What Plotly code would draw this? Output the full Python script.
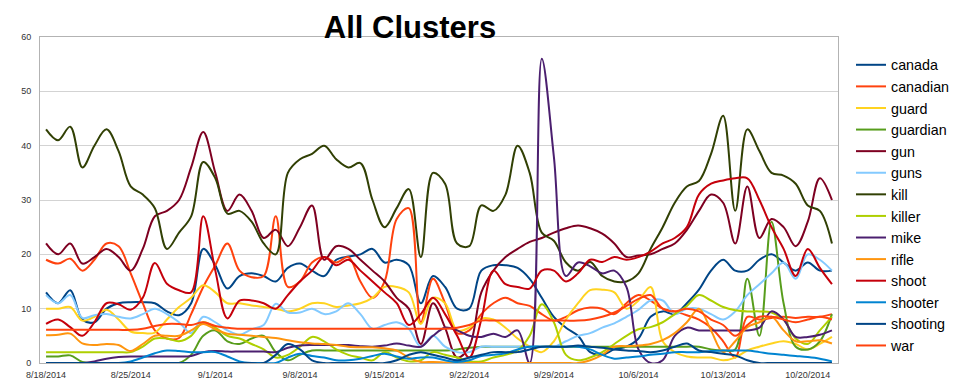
import pandas as pd
import plotly.graph_objects as go

dates = pd.date_range("2014-08-18", periods=66, freq="D")

canada = [13, 11, 13.4, 8, 7.5, 10, 11, 11.2, 11.2, 11, 9.5, 8.8, 11, 21, 18, 13.7, 16, 16.5, 16, 15,
          17.5, 18.3, 17, 16, 19, 19.6, 20, 21, 18.5, 19, 18, 11, 16, 14, 10, 10, 17, 18, 18, 17.5,
          15.5, 12, 8.5, 6.5, 5, 2, 1.5, 2.5, 3, 4.5, 8.5, 9.5, 9, 11, 13.5, 17, 19, 17, 17, 19,
          20, 18.5, 17, 18.5, 17, 17]
canadian = [19, 18.3, 19.2, 17, 19, 22, 21.5, 16.5, 11, 6, 4.5, 4.6, 9, 14, 18, 22, 17, 15.8, 16, 27,
            14, 15, 18.5, 19.5, 18.5, 19.5, 15, 12, 15, 26.5, 28.5, 7.5, 15.5, 11, 5.5, 6, 9, 11, 12, 11,
            10.5, 9, 7.8, 8.5, 9.7, 10.2, 10, 9, 11, 12.5, 11.5, 10, 9.5, 8.8, 8, 6.5, 4, 1, 8.5, 8,
            8.3, 8.5, 8.3, 8.5, 8.5, 9]
guard = [10, 10, 10.3, 7.8, 8.5, 9.8, 8, 5.8, 5.5, 5.6, 8, 10.3, 12, 14.3, 13, 11, 11, 10.6, 10.3, 10,
         9.5, 10, 11, 11, 10.3, 10.6, 11, 12, 14, 14, 13, 7.2, 12, 11, 6, 6.5, 8.2, 8, 6.5, 4.5,
         3, 2, 4, 8, 11, 13.4, 13.5, 13, 10, 11.5, 14, 4, 2, 1.2, 1, 1, 0.5, 1, 2.3, 3,
         3.6, 4, 3.5, 2.5, 3.5, 4.8]
guardian = [1.2, 1.2, 1.4, 0.2, 0, 0, 0, 0, 0, 0, 0, 0, 1.5, 5, 6, 4, 3.5, 4.5, 5, 2,
            0.5, 1.5, 2.3, 2.3, 2.3, 2.3, 2.3, 2.3, 2.3, 2.3, 2.3, 2.3, 2.3, 2.3, 2.5, 2.8, 3, 3, 3, 3,
            3, 3, 3, 3, 3, 3, 3, 3, 3, 3, 3, 3, 3, 3, 3, 2.5, 2.3, 2.5, 15.5, 5,
            26, 11, 3, 2.5, 4, 9]
gun = [22, 20, 22, 18.3, 19.5, 21, 19.5, 17, 21, 27, 28, 30, 36, 42.5, 35, 28, 31, 28, 23, 24.5,
       21.5, 25, 29, 19, 21.5, 21, 19, 17, 15, 12, 10, 3.5, 11, 6.5, 1, 3, 13, 17, 19.5, 21,
       22.3, 23, 24, 24.8, 25.3, 24.8, 23.8, 22, 19.5, 19.8, 20, 21, 22, 24.5, 28, 31, 29.5, 22, 32.5, 23,
       26.5, 25, 21.5, 26, 34, 30]
guns = [12.5, 11, 12.5, 8.3, 8.8, 9, 8.5, 8.2, 9, 10, 9, 7.5, 5.5, 8.5, 7.5, 6, 5.2, 6.2, 7, 10.9,
        9.3, 9.3, 10, 9, 9.5, 11, 9, 6.3, 7, 7.5, 6.3, 3, 5, 3, 2, 2, 3, 3, 3, 3,
        3, 3, 3, 4, 5, 5.5, 6.5, 7.3, 8.5, 9.8, 11.5, 11.5, 9, 10, 10, 9, 8, 9.5, 12.5, 14.5,
        16.5, 18.5, 15.5, 20, 19, 17]
kill = [43, 41, 43.5, 36, 40, 43, 39, 32.5, 31, 28.5, 21, 24, 27, 37, 34, 27.5, 28, 26, 22, 20,
        35, 37.5, 38.5, 40, 37.5, 36, 36.8, 30, 25, 28.5, 32, 19.5, 35, 33, 22, 21.5, 29, 28, 31, 40,
        35, 24, 22.5, 18.5, 17, 18.6, 16, 15, 15, 16.5, 21, 25, 29.5, 32.5, 33.5, 38.5, 45.5, 28, 43, 39,
        35, 34.5, 33, 29, 28, 22]
killer = [2, 2, 2, 2, 2, 2, 2, 2, 3, 4.5, 4.5, 4, 5, 7.5, 6.5, 5, 4.5, 3.5, 2.5, 1,
          1.5, 3, 4.8, 4, 2.5, 1.5, 1, 0.5, 2, 1, 0.3, 0.5, 2, 1.5, 1, 0.3, 0.3, 1, 1.5, 2.3,
          5, 10.8, 7.5, 1.5, 0.5, 1, 2, 3.5, 5, 6.2, 6.6, 7.5, 9, 10.5, 12.5, 11.5, 10.3, 9.7, 9.5, 9.5,
          9.3, 8, 4.5, 3.5, 6, 8.5]
mike = [0, 0, 0, 0, 0.3, 0.8, 1.1, 1.2, 1.2, 1.2, 1.2, 1.2, 1.3, 2, 2.2, 2.1, 2.1, 2.1, 2.1, 2,
        2.8, 3.2, 3.3, 3.3, 3.3, 3.3, 3.1, 3, 3.2, 3.6, 3.2, 3, 5, 6.5, 6, 5, 4.8, 5.4, 4.8, 6,
        0, 56, 38, 16, 18.5, 17.8, 16.5, 17, 14, 2.5, 0, 0.5, 5, 6.5, 6, 6, 6, 6, 6, 6.5,
        9.5, 8, 4.8, 4.8, 5.2, 6]
rifle = [5.1, 5.2, 5.4, 3.6, 3.3, 3.5, 3.3, 2.2, 3.5, 5, 5, 5, 6, 7.2, 6.2, 5.4, 5.2, 5, 4.8, 4.6,
         4.2, 3.8, 3.6, 3.5, 3.3, 3, 2.9, 2.9, 2.7, 2.3, 1, 0.2, 0.2, 0.1, 0, 0, 0, 0, 0, 0,
         0, 0, 0, 0, 0, 0.5, 1.5, 3, 3.1, 3.2, 3.5, 4.2, 5.5, 7.5, 10, 6, 2, 4, 6.6, 7.5,
         8.5, 6, 4, 4, 4.2, 3.6]
shoot = [7.2, 8, 6.6, 5, 7.5, 11, 10.8, 9.8, 12, 18.4, 14.6, 13.4, 13, 27, 17, 8.2, 11.5, 11.5, 11, 10,
         12.5, 15, 17, 19.5, 18, 19, 17, 15, 13, 11, 7, 9, 12, 9, 5, 1, 8, 17, 14.5, 14,
         13.7, 17, 17, 15, 16.5, 19, 18.6, 19.5, 19, 19.5, 20.5, 22, 23, 25, 31, 33, 33.6, 34, 34, 30,
         25, 21, 16, 21, 17.5, 14.5]
shooter = [0, 0, 0, 0, 0, 0, 0, 0.3, 1, 1.8, 2.3, 2.2, 2, 2, 2, 1.2, 0.3, 0, 0, 0,
           1, 1.7, 1.3, 1, 0.5, 0.5, 0.8, 1.3, 1.7, 1.2, 0.8, 1, 1, 0.5, 0.2, 0.5, 1.3, 1.5, 1.8, 2.5,
           3, 3, 3, 3, 3, 2.5, 1.5, 0.8, 1, 1.2, 1.5, 1.7, 2, 2, 2, 2.2, 2.3, 2.3, 2.3, 2,
           1.7, 1.5, 1.3, 1.1, 0.8, 0.3]
shooting = [0, 0, 0, 0, 0, 0, 0, 0, 0, 0, 0, 0, 0, 0, 0, 0, 0, 0, 0, 1.5,
            3.5, 2.5, 0.5, 0, 0, 0, 0, 0, 0, 0.5, 1.5, 2, 1.5, 1, 0.5, 1, 1.5, 2, 2, 2,
            2.5, 3, 3, 3, 3.2, 3, 2.8, 2.5, 2.3, 2.2, 2, 2.3, 3, 3.6, 2.3, 2, 1.7, 1.4, 0.5, 0,
            0, 0, 0, 0, 0, 0]
war = [6.1, 6.1, 6.1, 6.1, 6.1, 6.1, 6.1, 6.1, 6.3, 6.8, 7.2, 7.2, 7, 7.5, 6.8, 6.5, 6.3, 6.3, 6.3, 6.3,
       6.3, 6.3, 6.3, 6.3, 6.3, 6.3, 6.3, 6.3, 6.3, 6.3, 6.3, 6.3, 6.3, 6.3, 6.5, 7, 7.8, 7.8, 7.8, 7.8,
       7.8, 7.8, 7.8, 7.8, 7.8, 8, 8.5, 9.3, 10.5, 11.8, 12.5, 10, 9.5, 10, 9.5, 8, 7, 5, 7, 8.5,
       8.5, 8, 7.5, 8, 8.5, 8]

series_names = ["canada", "canadian", "guard", "guardian", "gun", "guns", "kill", "killer",
                "mike", "rifle", "shoot", "shooter", "shooting", "war"]
series_values = [canada, canadian, guard, guardian, gun, guns, kill, killer,
                 mike, rifle, shoot, shooter, shooting, war]
colors = ["#004586", "#ff420e", "#ffd320", "#579d1c", "#7e0021", "#83caff", "#314004",
          "#aecf00", "#4b1f6f", "#ff950e", "#c5000b", "#0084d1", "#004586", "#ff420e"]

FONT = "Liberation Sans, Arial, sans-serif"

fig = go.Figure()
for name, vals, col in zip(series_names, series_values, colors):
    fig.add_trace(go.Scatter(x=dates, y=vals, name=name, mode="lines",
                             line=dict(color=col, width=2, shape="spline", smoothing=1.0)))

fig.update_layout(
    width=960, height=384,
    margin=dict(l=32, r=123, t=29, b=28),
    paper_bgcolor="white", plot_bgcolor="white",
    font=dict(family=FONT, color="#333333"),
    title=dict(text="All Clusters", x=402 / 960, xref="container", xanchor="center",
               y=1 - 19 / 384, yref="container", yanchor="middle",
               font=dict(family=FONT, size=31, color="black", weight="bold")),
    legend=dict(x=843 / 960, xref="container", xanchor="left",
                y=1 - 41 / 384, yref="container", yanchor="top",
                font=dict(family=FONT, size=14.3, color="black"),
                bgcolor="rgba(0,0,0,0)", tracegroupgap=0, maxheight=1.0),
    showlegend=True,
)
fig.update_xaxes(
    type="date",
    range=[pd.Timestamp("2014-08-17 12:00"), pd.Timestamp("2014-10-22 12:00")],
    tick0="2014-08-18", dtick=7 * 86400000, tickformat="%-m/%-d/%Y",
    tickfont=dict(family=FONT, size=9, color="#333333"),
    showgrid=False, showline=True, linecolor="#b3b3b3", mirror=True,
    ticks="", ticklabelstandoff=3, zeroline=False,
)
fig.update_yaxes(
    range=[0, 60], dtick=10, tick0=0,
    tickfont=dict(family=FONT, size=9, color="#333333"),
    showgrid=True, gridcolor="#d3d3d3", gridwidth=1,
    showline=True, linecolor="#b3b3b3", mirror=True,
    ticks="", ticklabelstandoff=6, zeroline=False,
)

fig.write_html("out.html")
